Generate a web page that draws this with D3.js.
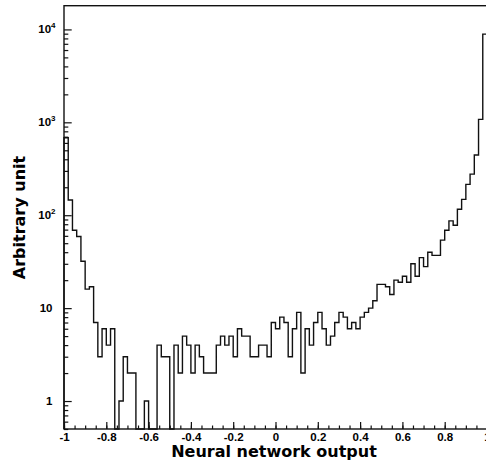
<!DOCTYPE html>
<html lang="en">
<head>
<meta charset="UTF-8">
<title>Neural network output</title>
<script src="https://d3js.org/d3.v7.min.js"></script>
<style>
  body { margin: 0; background: #fff; }
  svg text { font-family: "DejaVu Sans", sans-serif; font-weight: bold; fill: #000; }
  svg .tick-label { font-family: "Liberation Sans", Arial, sans-serif; }
</style>
</head>
<body>
<script>
// histogram: 100 bins between -1 and 1
var binLow = -1, binHigh = 1;
var counts = [
  682, 146, 69, 59, 32, 16, 17, 7, 3, 6,
  4, 6, 0, 1, 3, 2, 2, 0, 0, 1,
  0, 0, 4, 3, 3, 0, 4, 2, 5, 4,
  2, 4, 3, 2, 2, 2, 4, 5, 4, 5,
  3, 6, 5, 5, 3, 3, 4, 4, 3, 7,
  6, 8, 7, 3, 6, 9, 2, 6, 4, 7,
  9, 6, 4, 5, 7, 9, 8, 6, 7, 6,
  8, 9, 10, 12, 18, 18, 17, 14, 20, 19,
  22, 19, 30, 22, 35, 28, 40, 37, 37, 54,
  69, 87, 78, 116, 148, 215, 277, 445, 1077, 8900
];
var xTickLabels = [-1, -0.8, -0.6, -0.4, -0.2, 0, 0.2, 0.4, 0.6, 0.8, 1];
var yTickLabels = [1, 10, 100, 1000, 10000];
var xTitle = "Neural network output";
var yTitle = "Arbitrary unit";

var width = 486, height = 472;
var frame = { left: 64, right: 487, top: 5.7, bottom: 429 };

var svg = d3.select("body").append("svg")
    .attr("width", width)
    .attr("height", height);

var x = d3.scaleLinear().domain([binLow, binHigh]).range([frame.left, frame.right]);
var y = d3.scaleLog().domain([0.5, 18000]).range([frame.bottom, frame.top]);

var binWidth = (binHigh - binLow) / counts.length;

// step outline, empty bins fall to the frame bottom
var pts = [[binLow, 0]];
counts.forEach(function(c, i) {
    var lo = binLow + i * binWidth;
    pts.push([lo, c]);
    pts.push([lo + binWidth, c]);
});

var line = d3.line()
    .x(function(d) { return x(d[0]); })
    .y(function(d) { return d[1] > 0 ? y(d[1]) : frame.bottom; });

svg.append("path")
    .datum(pts)
    .attr("d", line)
    .attr("fill", "none")
    .attr("stroke", "#111")
    .attr("stroke-width", 1.4);

// frame
svg.append("rect")
    .attr("x", frame.left).attr("y", frame.top)
    .attr("width", frame.right - frame.left)
    .attr("height", frame.bottom - frame.top)
    .attr("fill", "none")
    .attr("stroke", "#111")
    .attr("stroke-width", 1.4);

// x axis: ticks pointing up into the frame
var xMinor = d3.range(-1, 1.0001, 0.05);
svg.append("g")
    .attr("transform", "translate(0," + frame.bottom + ")")
    .call(d3.axisBottom(x).tickValues(xMinor).tickSize(-3.5).tickFormat(""))
    .call(function(g) { g.select(".domain").remove(); });

svg.append("g")
    .attr("transform", "translate(0," + frame.bottom + ")")
    .call(d3.axisBottom(x)
        .tickValues(xTickLabels)
        .tickSize(-7)
        .tickFormat(function(d) { return d + ""; }))
    .call(function(g) {
        g.select(".domain").remove();
        g.selectAll("text")
            .attr("class", "tick-label")
            .attr("font-size", 11.5)
            .attr("y", 8)
            .attr("dy", "0.35em");
    });

// y axis: log ticks
var yMinor = [];
[0.1, 1, 10, 100, 1000, 10000].forEach(function(dec) {
    for (var k = 2; k <= 9; k++) {
        var v = dec * k;
        if (v >= 0.5 && v <= 18000) yMinor.push(v);
    }
});
svg.append("g")
    .attr("transform", "translate(" + frame.left + ",0)")
    .call(d3.axisLeft(y).tickValues(yMinor).tickSize(-4.3).tickFormat(""))
    .call(function(g) { g.select(".domain").remove(); });

svg.append("g")
    .attr("transform", "translate(" + frame.left + ",0)")
    .call(d3.axisLeft(y).tickValues(yTickLabels).tickSize(-7.7).tickFormat(""))
    .call(function(g) { g.select(".domain").remove(); });

svg.selectAll("line").attr("stroke", "#111").attr("stroke-width", 1.2);

// y labels with superscript exponent
yTickLabels.forEach(function(v) {
    var e = Math.round(Math.log10(v));
    var t = svg.append("text")
        .attr("class", "tick-label")
        .attr("y", y(v) + 4)
        .attr("text-anchor", "end")
        .attr("font-size", 11.5);
    if (e <= 1) {
        t.attr("x", 52.5).text(v);
    } else {
        t.attr("x", 55.5);
        t.append("tspan").text("10");
        t.append("tspan").attr("font-size", 8).attr("dy", -5.5).text(e);
    }
});

// axis titles
svg.append("text")
    .attr("x", 274)
    .attr("y", 457)
    .attr("text-anchor", "middle")
    .attr("font-size", 16)
    .text(xTitle);

svg.append("text")
    .attr("transform", "translate(25,217.5) rotate(-90)")
    .attr("text-anchor", "middle")
    .attr("font-size", 16)
    .text(yTitle);
</script>
</body>
</html>
